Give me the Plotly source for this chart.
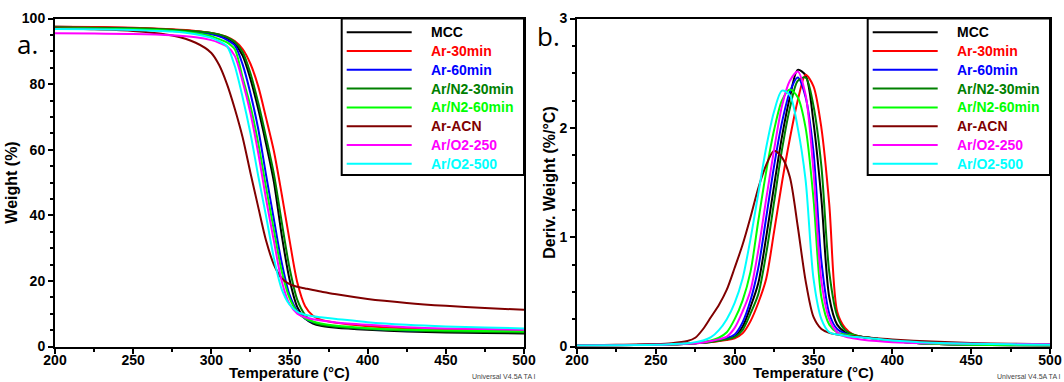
import plotly.graph_objects as go

W_PX, H_PX = 1064, 382

# ---------------- data ----------------
series_names = ["MCC", "Ar-30min", "Ar-60min", "Ar/N2-30min", "Ar/N2-60min",
                "Ar-ACN", "Ar/O2-250", "Ar/O2-500"]
series_colors = ["#000000", "#ff0000", "#0000ff", "#008000", "#00ff00",
                 "#800000", "#ff00ff", "#00ffff"]

# TGA (weight %) temperatures
t_tga = [200, 225, 250, 275, 290, 300, 305, 310, 315, 320, 325, 330, 335, 340,
         345, 350, 355, 360, 365, 370, 380, 400, 425, 450, 475, 500]

w_mcc = [97.5, 97.3, 97.1, 96.6, 96.1, 95.5, 94.9, 94.0, 92.3, 88.7, 81.6, 72.4, 61.8, 50.2,
         34.0, 20.5, 12.0, 8.5, 7.0, 6.3, 5.7, 5.1, 4.6, 4.3, 4.1, 4.0]
w_ar30 = [97.5, 97.4, 97.2, 96.7, 96.2, 95.6, 95.1, 94.4, 93.1, 90.7, 86.2, 79.3, 69.7, 59.6,
          46.5, 32.5, 19.5, 12.3, 9.4, 8.2, 7.2, 6.2, 5.6, 5.3, 5.1, 4.9]
w_ar60 = [97.2, 97.1, 96.9, 96.4, 95.9, 95.2, 94.6, 93.5, 91.8, 86.0, 77.2, 66.3, 52.3, 38.8,
          25.6, 15.8, 10.8, 8.5, 7.4, 6.8, 6.1, 5.4, 4.9, 4.7, 4.6, 4.5]
w_n230 = [97.3, 97.2, 97.0, 96.6, 96.1, 95.6, 95.1, 94.3, 92.8, 89.8, 83.3, 74.3, 63.8, 52.6,
          38.0, 24.0, 14.2, 9.6, 7.4, 6.6, 6.0, 5.3, 4.9, 4.6, 4.4, 4.3]
w_n260 = [97.0, 96.9, 96.7, 96.2, 95.5, 94.6, 93.7, 92.7, 90.6, 82.0, 73.3, 62.0, 48.5, 35.5,
          23.0, 14.8, 10.5, 8.6, 7.6, 7.0, 6.3, 5.6, 5.1, 4.9, 4.7, 4.6]
w_acn = [97.0, 96.7, 96.2, 94.8, 92.6, 89.5, 85.8, 80.0, 72.5, 63.8, 53.0, 42.5, 32.3, 25.0,
         20.8, 19.0, 18.2, 17.7, 17.2, 16.8, 15.9, 14.5, 13.3, 12.4, 11.7, 11.2]
w_o250 = [95.5, 95.4, 95.3, 94.9, 94.3, 93.4, 92.6, 91.5, 88.6, 80.8, 71.2, 59.0, 45.0, 32.2,
          20.0, 13.0, 10.0, 8.9, 8.3, 7.9, 7.3, 6.6, 5.9, 5.5, 5.3, 5.1]
w_o500 = [96.8, 96.7, 96.5, 96.0, 95.2, 94.1, 93.1, 91.6, 85.5, 76.0, 65.0, 52.0, 39.8, 27.0,
          17.5, 12.8, 10.6, 9.7, 9.2, 8.9, 8.4, 7.4, 6.6, 6.1, 5.8, 5.5]

# DTG (deriv. weight %/°C) temperatures
t_dtg = [200, 225, 250, 260, 270, 275, 280, 285, 290, 295, 300, 305, 310, 315, 320, 325,
         330, 335, 340, 345, 350, 355, 360, 365, 370, 375, 380, 390, 400, 425, 450, 475, 500]

d_mcc = [0.01, 0.012, 0.015, 0.02, 0.025, 0.03, 0.035, 0.045, 0.055, 0.07, 0.09, 0.18, 0.36,
         0.58, 1.0, 1.47, 1.92, 2.28, 2.53, 2.48, 2.05, 1.35, 0.45, 0.2, 0.13, 0.1, 0.09,
         0.07, 0.05, 0.025, 0.015, 0.012, 0.01]
d_ar30 = [0.01, 0.012, 0.015, 0.02, 0.025, 0.03, 0.035, 0.04, 0.05, 0.06, 0.075, 0.12, 0.23,
          0.4, 0.62, 1.05, 1.5, 1.9, 2.25, 2.485, 2.38, 2.0, 1.3, 0.32, 0.17, 0.11, 0.09,
          0.07, 0.05, 0.025, 0.015, 0.012, 0.01]
d_ar60 = [0.01, 0.012, 0.015, 0.02, 0.025, 0.03, 0.037, 0.047, 0.06, 0.075, 0.11, 0.22, 0.42,
          0.72, 1.18, 1.65, 2.05, 2.33, 2.46, 2.28, 1.78, 0.78, 0.3, 0.16, 0.12, 0.1, 0.09,
          0.07, 0.05, 0.025, 0.015, 0.012, 0.01]
d_n230 = [0.01, 0.012, 0.015, 0.02, 0.025, 0.03, 0.035, 0.042, 0.052, 0.065, 0.085, 0.15, 0.3,
          0.48, 0.85, 1.32, 1.8, 2.18, 2.43, 2.46, 2.2, 1.65, 0.68, 0.28, 0.15, 0.11, 0.09,
          0.07, 0.05, 0.025, 0.015, 0.012, 0.01]
d_n260 = [0.01, 0.012, 0.016, 0.02, 0.027, 0.032, 0.04, 0.055, 0.08, 0.13, 0.25, 0.42, 0.68,
          1.15, 1.6, 1.98, 2.25, 2.35, 2.28, 2.0, 1.35, 0.45, 0.2, 0.13, 0.11, 0.1, 0.09,
          0.07, 0.05, 0.025, 0.015, 0.012, 0.01]
d_acn = [0.01, 0.015, 0.022, 0.03, 0.05, 0.08, 0.16, 0.27, 0.38, 0.52, 0.72, 0.93, 1.18,
         1.45, 1.66, 1.79, 1.73, 1.55, 1.1, 0.6, 0.27, 0.16, 0.125, 0.11, 0.1, 0.095, 0.09,
         0.075, 0.065, 0.045, 0.032, 0.025, 0.02]
d_o250 = [0.01, 0.012, 0.015, 0.02, 0.026, 0.03, 0.037, 0.05, 0.065, 0.09, 0.17, 0.32, 0.51,
          0.88, 1.35, 1.8, 2.2, 2.43, 2.515, 2.3, 1.6, 0.6, 0.25, 0.13, 0.09, 0.075, 0.065,
          0.05, 0.04, 0.03, 0.025, 0.022, 0.02]
d_o500 = [0.01, 0.012, 0.016, 0.022, 0.03, 0.04, 0.055, 0.085, 0.15, 0.25, 0.4, 0.62, 0.98,
          1.4, 1.82, 2.15, 2.34, 2.3, 2.0, 1.52, 0.62, 0.25, 0.13, 0.11, 0.1, 0.09, 0.085,
          0.07, 0.055, 0.035, 0.025, 0.02, 0.015]

tga_values = [w_mcc, w_ar30, w_ar60, w_n230, w_n260, w_acn, w_o250, w_o500]
dtg_values = [d_mcc, d_ar30, d_ar60, d_n230, d_n260, d_acn, d_o250, d_o500]

x_ticks_major = 50
x_ticks_minor = 25

# ---------------- figure ----------------
def px(x):
    return x / W_PX


def py(y):
    return 1 - y / H_PX


FONT = "Liberation Sans, Arial, sans-serif"

fig = go.Figure()
for name, col, w in zip(series_names, series_colors, tga_values):
    fig.add_trace(go.Scatter(x=t_tga, y=w, mode="lines", name=name,
                             line=dict(color=col, width=2, shape="spline", smoothing=0.8),
                             xaxis="x", yaxis="y", showlegend=False))
for name, col, d in zip(series_names, series_colors, dtg_values):
    fig.add_trace(go.Scatter(x=t_dtg, y=d, mode="lines", name=name,
                             line=dict(color=col, width=2, shape="spline", smoothing=0.8),
                             xaxis="x2", yaxis="y2", showlegend=False))

L_LEFT, L_RIGHT = 55, 524
R_LEFT, R_RIGHT = 577, 1050
P_TOP, P_BOT = 18.5, 346.5

axis_common = dict(showline=True, linewidth=2, linecolor="black", mirror=True,
                   ticks="outside", ticklen=5, tickwidth=1.5, tickcolor="black",
                   showgrid=False, zeroline=False, automargin=False,
                   tickfont=dict(family=FONT, size=14, color="black", weight="bold"))
x_extra = dict(range=[200, 500], tick0=200, dtick=x_ticks_major, ticklabelstandoff=-5,
               minor=dict(dtick=x_ticks_minor, ticks="outside", ticklen=3, tickcolor="black"))

title_font = dict(family=FONT, size=16, color="black", weight="bold")
xtitle_font = dict(family=FONT, size=15, color="black", weight="bold")

fig.update_layout(
    width=W_PX, height=H_PX,
    margin=dict(l=0, r=0, t=0, b=0, pad=0),
    paper_bgcolor="white", plot_bgcolor="white",
    xaxis=dict(domain=[px(L_LEFT), px(L_RIGHT)], anchor="y", **x_extra, **axis_common),
    yaxis=dict(domain=[py(P_BOT), py(P_TOP)], range=[0, 100], dtick=20,
               minor=dict(dtick=5, ticks="outside", ticklen=3, tickcolor="black"),
               title=dict(text="Weight (%)", font=title_font, standoff=0),
               anchor="x", **axis_common),
    xaxis2=dict(domain=[px(R_LEFT), px(R_RIGHT)], anchor="y2", **x_extra, **axis_common),
    yaxis2=dict(domain=[py(P_BOT), py(P_TOP)], range=[0, 3], dtick=1,
                minor=dict(dtick=0.25, ticks="outside", ticklen=3, tickcolor="black"),
                title=dict(text="Deriv. Weight (%/°C)", font=title_font, standoff=0),
                anchor="x2", **axis_common),
)

shapes = []
annotations = []
ROW0, ROW_STEP = 32.3, 18.77
for left, right in ((L_LEFT, L_RIGHT), (R_LEFT, R_RIGHT)):
    # x-axis title under each panel
    annotations.append(dict(x=px((left + right) / 2), y=py(381.5), xref="paper", yref="paper",
                            text="Temperature (°C)", showarrow=False, borderpad=0,
                            xanchor="center", yanchor="bottom", font=xtitle_font))
    shapes.append(dict(type="rect", xref="paper", yref="paper",
                       x0=px(right - 182.3), x1=px(right), y0=py(175), y1=py(P_TOP),
                       line=dict(color="black", width=2), fillcolor="white", layer="above"))
    for i, (name, col) in enumerate(zip(series_names, series_colors)):
        yy = ROW0 + i * ROW_STEP
        shapes.append(dict(type="line", xref="paper", yref="paper",
                           x0=px(right - 177.3), x1=px(right - 112.3), y0=py(yy), y1=py(yy),
                           line=dict(color=col, width=2), layer="above"))
        annotations.append(dict(x=px(right - 95), y=py(yy), xref="paper", yref="paper",
                                text=name, showarrow=False, xanchor="left", yanchor="middle",
                                font=dict(family=FONT, size=14, color=col, weight="bold")))

annotations.append(dict(x=px(15), y=py(44), xref="paper", yref="paper", text="a.",
                        showarrow=False, xanchor="left", yanchor="middle",
                        font=dict(family="Open Sans, sans-serif", size=26, color="black")))
annotations.append(dict(x=px(535), y=py(36), xref="paper", yref="paper", text="b.",
                        showarrow=False, xanchor="left", yanchor="middle",
                        font=dict(family="Open Sans, sans-serif", size=26, color="black")))
for xx in (470, 995):
    annotations.append(dict(x=px(xx), y=py(376), xref="paper", yref="paper",
                            text="Universal V4.5A TA I", showarrow=False,
                            xanchor="left", yanchor="middle",
                            font=dict(family=FONT, size=7, color="#444444")))

fig.update_layout(shapes=shapes, annotations=annotations)

fig.write_html("out.html", config={"displayModeBar": False},
               post_script="document.body.style.margin='0';"
                           "document.body.style.padding='0';"
                           "document.body.style.overflow='hidden';")
